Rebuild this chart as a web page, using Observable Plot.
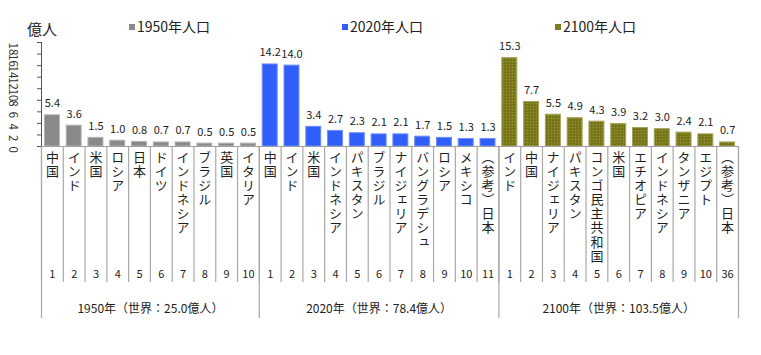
<!DOCTYPE html>
<html>
<head>
<meta charset="utf-8">
<script src="https://cdn.jsdelivr.net/npm/d3@7"></script>
<script src="https://cdn.jsdelivr.net/npm/@observablehq/plot@0.6"></script>
<style>
  html, body { margin: 0; padding: 0; background: #fff; }
  #wrap { position: relative; width: 761px; height: 355px; font-family: "Noto Sans CJK JP", "Noto Sans", sans-serif; color: #222; }
  .lg { position: absolute; font-size: 14px; line-height: 14px; white-space: nowrap; }
  .sw { display: inline-block; width: 6px; height: 6px; margin-right: 2px; vertical-align: 2px; }
</style>
</head>
<body>
<div id="wrap"></div>
<script>
// ---- data ----
const years = ["1950", "2020", "2100"];
const legendLabels = ["1950年人口", "2020年人口", "2100年人口"];
const unitLabel = "億人";
const names1950 = ["中国", "インド", "米国", "ロシア", "日本", "ドイツ", "インドネシア", "ブラジル", "英国", "イタリア"];
const values1950 = [5.4, 3.6, 1.5, 1.0, 0.8, 0.7, 0.7, 0.5, 0.5, 0.5];
const ranks1950 = ["1", "2", "3", "4", "5", "6", "7", "8", "9", "10"];
const names2020 = ["中国", "インド", "米国", "インドネシア", "パキスタン", "ブラジル", "ナイジェリア", "バングラデシュ", "ロシア", "メキシコ", "（参考）日本"];
const values2020 = [14.2, 14.0, 3.4, 2.7, 2.3, 2.1, 2.1, 1.7, 1.5, 1.3, 1.3];
const ranks2020 = ["1", "2", "3", "4", "5", "6", "7", "8", "9", "10", "11"];
const names2100 = ["インド", "中国", "ナイジェリア", "パキスタン", "コンゴ民主共和国", "米国", "エチオピア", "インドネシア", "タンザニア", "エジプト", "（参考）日本"];
const values2100 = [15.3, 7.7, 5.5, 4.9, 4.3, 3.9, 3.2, 3.0, 2.4, 2.1, 0.7];
const ranks2100 = ["1", "2", "3", "4", "5", "6", "7", "8", "9", "10", "36"];
const groupLabels = ["1950年（世界：25.0億人）", "2020年（世界：78.4億人）", "2100年（世界：103.5億人）"];
const yTicks = [0, 2, 4, 6, 8, 10, 12, 14, 16, 18];

// ---- build table ----
const fills = {"1950": "#898989", "2020": "#2f5ef8", "2100": "url(#olivePat)"};
const strokes = {"1950": "#b4b4b4", "2020": "#6f8ff9", "2100": "#a3a35a"};
const groupDefs = [
  {year: years[0], names: names1950, values: values1950, ranks: ranks1950, label: groupLabels[0]},
  {year: years[1], names: names2020, values: values2020, ranks: ranks2020, label: groupLabels[1]},
  {year: years[2], names: names2100, values: values2100, ranks: ranks2100, label: groupLabels[2]}
];
let idx = 0;
const rows = [];
const groups = [];
for (const g of groupDefs) {
  const start = idx;
  g.names.forEach((n, k) => rows.push({i: idx++, year: g.year, name: n, value: g.values[k], rank: g.ranks[k]}));
  groups.push({start, end: idx, label: g.label});
}
const n = idx;
const bounds = d3.range(n + 1);
const groupBounds = [0, ...groups.map(g => g.end)];

const frameH = 104; // 146 - 42
const catColor = "#1f1f1f";
const barMarks = years.map(y => Plot.rectY(rows.filter(d => d.year === y), {
  x1: "i", x2: d => d.i + 1, y: "value",
  insetLeft: 3.4, insetRight: 3.4,
  fill: fills[y], stroke: strokes[y], strokeWidth: 1
}));

const chart = Plot.plot({
  width: 761, height: 355,
  marginLeft: 41, marginRight: 23, marginTop: 42, marginBottom: 209,
  x: {domain: [0, n], axis: null},
  y: {domain: [0, 18], axis: null},
  style: {fontFamily: "'Noto Sans CJK JP', 'Noto Sans', sans-serif", background: "transparent", color: "#222"},
  marks: [
    // table dividers
    Plot.ruleX(bounds, {x: d => d, insetTop: frameH, insetBottom: -136, stroke: "#a8a8a8", strokeWidth: 1.2}),
    Plot.ruleX(groupBounds, {x: d => d, insetTop: frameH, insetBottom: -172, stroke: "#a8a8a8", strokeWidth: 1.2}),
    ...barMarks,
    // baseline
    Plot.ruleY([0], {stroke: "#a0a0a0", strokeWidth: 1.2}),
    // y axis line & ticks
    Plot.ruleX([0], {x: d => d, y1: 0, y2: 18, stroke: "#555"}),
    Plot.ruleY(yTicks, {y: d => d, x1: 0, x2: 0, insetLeft: -4, stroke: "#555"}),
    Plot.text(yTicks, {y: d => d, frameAnchor: "left", text: d => String(d), rotate: 90, dx: -29, fontSize: 11.5, fill: "#333"}),
    // value labels
    Plot.text(rows, {x: d => d.i + 0.5, y: "value", text: d => d.value.toFixed(1), lineAnchor: "bottom", dy: -8, fontSize: 11, fill: "#222"}),
    // category names (vertical)
    Plot.text(rows, {x: d => d.i + 0.5, frameAnchor: "bottom", text: "name", dy: 4, textAnchor: "start", lineAnchor: "top", fontSize: 13, fill: catColor}),
    // ranks
    Plot.text(rows, {x: d => d.i + 0.5, frameAnchor: "bottom", text: "rank", dy: 131, fontSize: 11, fill: "#222"}),
    // group labels
    Plot.text(groups, {x: d => (d.start + d.end) / 2, frameAnchor: "bottom", text: "label", dy: 166, fontSize: 12, fill: "#222"})
  ]
});

// pattern for 2100 bars
d3.select(chart).insert("defs", ":first-child").html(
  '<pattern id="olivePat" width="3" height="3" patternUnits="userSpaceOnUse">' +
  '<rect width="3" height="3" fill="#7e7d1e"/>' +
  '<rect x="0" y="0" width="1" height="1" fill="#6a6812"/>' +
  '<rect x="2" y="1" width="1" height="1" fill="#94903a"/>' +
  '<rect x="1" y="2" width="1" height="1" fill="#706e18"/>' +
  '</pattern>');

// vertical writing for category names
d3.select(chart).selectAll("g").filter(function() { return this.getAttribute("fill") === catColor; })
  .selectAll("text")
  .attr("y", null)
  .attr("writing-mode", "vertical-rl")
  .style("writing-mode", "vertical-rl")
  .style("text-orientation", "mixed")
  .style("letter-spacing", "1.1px");

const wrap = document.getElementById("wrap");
wrap.appendChild(chart);
chart.style.position = "absolute";
chart.style.left = "0px";
chart.style.top = "0px";

// unit label and legend
const unit = document.createElement("div");
unit.className = "lg";
unit.style.left = "27px"; unit.style.top = "21px"; unit.style.fontSize = "15px"; unit.style.lineHeight = "15px";
unit.textContent = unitLabel;
wrap.appendChild(unit);

const legendPos = [[129, 19], [342, 19], [555, 19]];
const swatchColors = ["#898989", "#2f5ef8", "#7e7d1e"];
legendLabels.forEach((t, k) => {
  const d = document.createElement("div");
  d.className = "lg";
  d.style.left = legendPos[k][0] + "px";
  d.style.top = legendPos[k][1] + "px";
  const s = document.createElement("span");
  s.className = "sw";
  s.style.background = swatchColors[k];
  d.appendChild(s);
  d.appendChild(document.createTextNode(t));
  wrap.appendChild(d);
});
</script>
</body>
</html>
